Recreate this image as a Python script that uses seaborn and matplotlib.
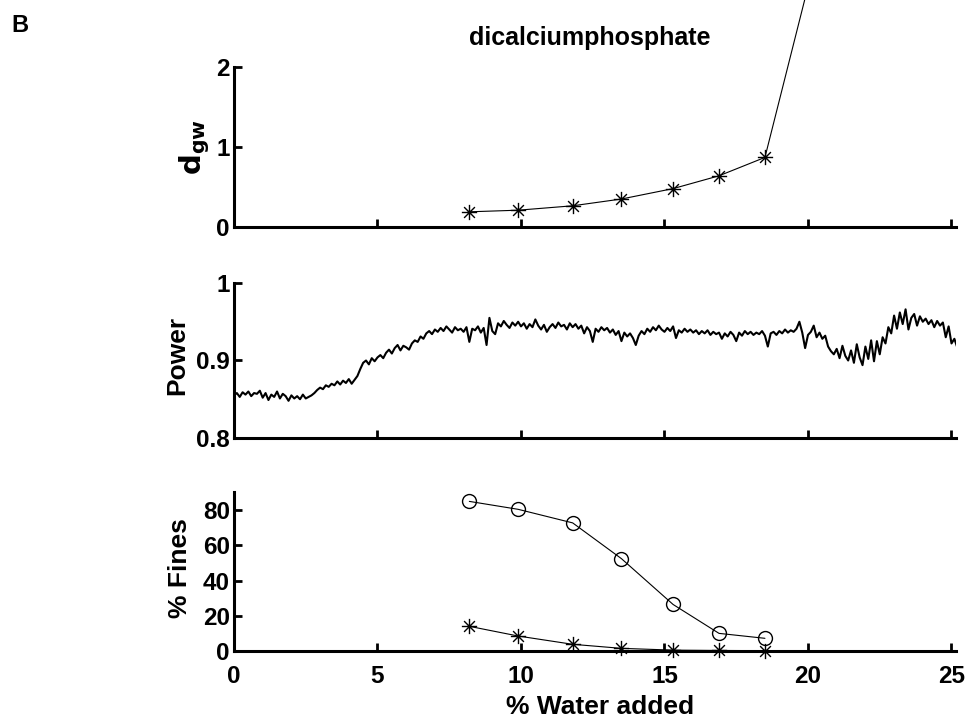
import numpy as np
import matplotlib
matplotlib.use("Agg")
import matplotlib.pyplot as plt
from matplotlib.path import Path
import seaborn as sns

# ---------------- data ----------------
water_pts = [8.2, 9.9, 11.8, 13.5, 15.3, 16.9, 18.5]
dgw_vals = [0.19, 0.21, 0.265, 0.35, 0.48, 0.64, 0.87]
dgw_last_x = 20.3      # next measurement, far above the axis range
dgw_last_y = 3.43

fines_circle = [84.9, 80.4, 72.7, 52.4, 26.4, 10.0, 7.2]
fines_star = [14.0, 8.5, 3.8, 1.5, 0.5, 0.3, 0.2]

power_step = 0.1
power_vals = [
    0.855, 0.858, 0.853, 0.859, 0.856, 0.860, 0.854, 0.858, 0.857, 0.861,
    0.852, 0.858, 0.849, 0.856, 0.853, 0.860, 0.851, 0.857, 0.854, 0.848,
    0.855, 0.851, 0.854, 0.850, 0.856, 0.851, 0.853, 0.855, 0.858, 0.862,
    0.865, 0.863, 0.868, 0.866, 0.870, 0.868, 0.873, 0.869, 0.874, 0.871,
    0.876, 0.870, 0.875, 0.880, 0.889, 0.897, 0.900, 0.895, 0.903, 0.899,
    0.904, 0.907, 0.903, 0.910, 0.914, 0.909, 0.916, 0.920, 0.913, 0.919,
    0.917, 0.914, 0.922, 0.926, 0.924, 0.931, 0.928, 0.935, 0.938, 0.934,
    0.940, 0.937, 0.942, 0.938, 0.944, 0.940, 0.936, 0.943, 0.939, 0.941,
    0.937, 0.943, 0.924, 0.941, 0.939, 0.944, 0.936, 0.942, 0.920, 0.955,
    0.938, 0.934, 0.948, 0.944, 0.951, 0.946, 0.942, 0.949, 0.945, 0.950,
    0.944, 0.948, 0.941, 0.947, 0.943, 0.953, 0.945, 0.940, 0.946, 0.937,
    0.943, 0.947, 0.942, 0.949, 0.944, 0.946, 0.940, 0.948, 0.943, 0.947,
    0.941, 0.945, 0.935, 0.943, 0.938, 0.924, 0.941, 0.937, 0.943, 0.939,
    0.942, 0.936, 0.940, 0.933, 0.938, 0.925, 0.936, 0.931, 0.935, 0.929,
    0.920, 0.932, 0.938, 0.934, 0.941, 0.937, 0.943, 0.939, 0.945, 0.940,
    0.937, 0.942, 0.938, 0.944, 0.929, 0.939, 0.936, 0.941, 0.937, 0.940,
    0.936, 0.939, 0.934, 0.938, 0.935, 0.939, 0.933, 0.937, 0.934, 0.936,
    0.928, 0.935, 0.931, 0.937, 0.933, 0.925, 0.936, 0.932, 0.938, 0.934,
    0.937, 0.933, 0.936, 0.934, 0.938, 0.932, 0.918, 0.935, 0.937, 0.933,
    0.938, 0.935, 0.940, 0.936, 0.939, 0.937, 0.941, 0.950, 0.936, 0.916,
    0.933, 0.937, 0.945, 0.930, 0.936, 0.928, 0.932, 0.918, 0.912, 0.908,
    0.915, 0.903, 0.919, 0.906, 0.900, 0.913, 0.897, 0.921, 0.904, 0.894,
    0.918, 0.902, 0.926, 0.899, 0.925, 0.908, 0.930, 0.922, 0.943, 0.935,
    0.958, 0.941, 0.962, 0.947, 0.966, 0.940, 0.955, 0.960, 0.945, 0.957,
    0.950, 0.954, 0.947, 0.952, 0.943, 0.951, 0.945, 0.949, 0.930, 0.944,
    0.922, 0.928, 0.917,
]
power_x = np.arange(len(power_vals)) * power_step

xticks = [0, 5, 10, 15, 20, 25]
dgw_ticks = [0, 1, 2]
power_ticks = [0.8, 0.9, 1.0]
power_ticklabels = ["0.8", "0.9", "1"]
fines_ticks = [0, 20, 40, 60, 80]

title_text = "dicalciumphosphate"
panel_letter = "B"

# ---------------- style ----------------
sns.set_style("ticks")
plt.rcParams["font.family"] = ["Liberation Sans", "DejaVu Sans"]
plt.rcParams["font.weight"] = "bold"
for key in ("text.color", "axes.labelcolor", "xtick.color", "ytick.color",
            "axes.edgecolor"):
    plt.rcParams[key] = "black"

verts = [(-1, 0), (1, 0), (0, -1), (0, 1),
         (-0.707, -0.707), (0.707, 0.707), (-0.707, 0.707), (0.707, -0.707)]
codes = [Path.MOVETO, Path.LINETO] * 4
star = Path(verts, codes)

W, H = 965, 723
fig = plt.figure(figsize=(W / 100, H / 100), dpi=100)
left = 234 / W
width = 721.8 / W
ax1 = fig.add_axes([left, 1 - 227 / H, width, 160 / H])
ax2 = fig.add_axes([left, 1 - 438 / H, width, 155 / H])
ax3 = fig.add_axes([left, 1 - 651 / H, width, 158.6 / H])

tick_fs = 17.5
label_fs = 19

for ax in (ax1, ax2, ax3):
    ax.set_xlim(0, 25.15)
    ax.set_xticks(xticks)
    for s in ("top", "right"):
        ax.spines[s].set_visible(False)
    for s in ("left", "bottom"):
        ax.spines[s].set_linewidth(2.2)
        ax.spines[s].set_color("black")
    ax.tick_params(direction="in", length=5.5, width=2, color="black",
                   labelcolor="black", labelsize=tick_fs)
    ax.tick_params(axis="y", pad=3)
    ax.tick_params(axis="x", pad=10)
    ax.set_facecolor("white")

# --- top panel: d_gw ---
dgw_x = water_pts + [dgw_last_x]
dgw_y = dgw_vals + [dgw_last_y]
sns.lineplot(x=dgw_x, y=dgw_y, ax=ax1, color="black", linewidth=0.8,
             estimator=None, sort=False)
ax1.lines[-1].set_clip_on(False)
sns.lineplot(x=water_pts, y=dgw_vals, ax=ax1, color="black", linewidth=0,
             marker=star, markersize=11, markeredgewidth=1.0,
             markeredgecolor="black", estimator=None, sort=False)
ax1.set_ylim(0, 2)
ax1.set_yticks(dgw_ticks)
ax1.set_yticklabels([str(t) for t in dgw_ticks], fontweight="bold")
ax1.set_xticklabels([])
ax1.set_xlabel("")
ax1.set_ylabel("")

# --- middle panel: power ---
sns.lineplot(x=power_x, y=power_vals, ax=ax2, color="black", linewidth=1.5,
             estimator=None, sort=False)
ax2.set_ylim(0.8, 1.0)
ax2.set_yticks(power_ticks)
ax2.set_yticklabels(power_ticklabels, fontweight="bold")
ax2.set_xticklabels([])
ax2.set_xlabel("")
ax2.set_ylabel("")

# --- bottom panel: % fines ---
sns.lineplot(x=water_pts, y=fines_circle, ax=ax3, color="black", linewidth=0.8,
             marker="o", markersize=10, markerfacecolor="none",
             markeredgecolor="black", markeredgewidth=1.0,
             estimator=None, sort=False)
sns.lineplot(x=water_pts, y=fines_star, ax=ax3, color="black", linewidth=0.8,
             marker=star, markersize=11, markeredgewidth=1.0,
             markeredgecolor="black", estimator=None, sort=False)
for ln in ax3.lines:
    ln.set_clip_on(False)
ax3.set_ylim(0, 90)
ax3.set_yticks(fines_ticks)
ax3.set_yticklabels([str(t) for t in fines_ticks], fontweight="bold")
ax3.set_xticklabels([str(t) for t in xticks], fontweight="bold")
ax3.set_xlabel("")
ax3.set_ylabel("")

# --- texts ---
fig.text(11 / W, 1 - 26 / H, panel_letter, ha="left", va="center",
         fontsize=17, fontweight="bold")
fig.text(590 / W, 1 - 38 / H, title_text, ha="center", va="center",
         fontsize=18, fontweight="bold")
fig.text(600 / W, 1 - 707 / H, "% Water added", ha="center", va="center",
         fontsize=label_fs, fontweight="bold")
fig.text(195 / W, 1 - 147 / H, r"$\mathbf{d_{gw}}$", ha="center", va="center",
         rotation=90, fontsize=label_fs + 2)
fig.text(177 / W, 1 - 355 / H, "Power", ha="center", va="center",
         rotation=90, fontsize=label_fs, fontweight="bold")
fig.text(180 / W, 1 - 568 / H, "% Fines", ha="center", va="center",
         rotation=90, fontsize=label_fs, fontweight="bold")

fig.savefig("out.png", dpi=100, facecolor="white")
